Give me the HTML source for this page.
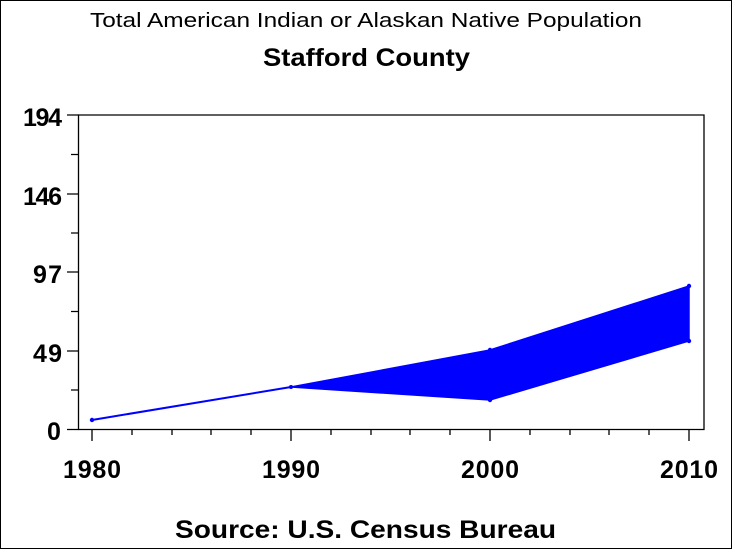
<!DOCTYPE html>
<html><head><style>
html,body{margin:0;padding:0;background:#fff;}
svg{display:block;}
text{font-family:"Liberation Sans",Arial,sans-serif;fill:#000;}
</style></head><body>
<svg width="733" height="550" viewBox="0 0 733 550">
<rect x="0.5" y="0.5" width="731" height="548" fill="#fff" stroke="#000"/>
<text x="90" y="27" font-size="20" textLength="552" lengthAdjust="spacingAndGlyphs">Total American Indian or Alaskan Native Population</text>
<text x="263" y="66" font-size="25" font-weight="bold" textLength="207" lengthAdjust="spacingAndGlyphs">Stafford County</text>
<text x="175" y="538" font-size="25" font-weight="bold" textLength="381" lengthAdjust="spacingAndGlyphs">Source: U.S. Census Bureau</text>
<g stroke="#000" stroke-width="1.3" fill="none">
<path d="M78.5 115 H704 V429.5 H78.5 Z"/>
<path d="M67 115H78.5M67 194H78.5M67 272H78.5M67 351H78.5M67 429.5H78.5"/>
<path d="M71 154.5H78.5M71 233H78.5M71 311.5H78.5M71 390H78.5"/>
<path d="M92 429.5V441M291 429.5V441M490 429.5V441M689 429.5V441"/>
<path d="M132 429.5V435M172 429.5V435M211 429.5V435M251 429.5V435M331 429.5V435M371 429.5V435M410 429.5V435M450 429.5V435M530 429.5V435M570 429.5V435M609 429.5V435M649 429.5V435"/>
</g>
<g font-size="25" font-weight="bold" lengthAdjust="spacingAndGlyphs">
<text x="23" y="126" textLength="39">194</text>
<text x="23" y="205" textLength="39">146</text>
<text x="33" y="283" textLength="29">97</text>
<text x="33" y="362" textLength="29">49</text>
<text x="47" y="440" textLength="15">0</text>
<text x="63" y="478" textLength="58">1980</text>
<text x="262" y="478" textLength="58">1990</text>
<text x="461" y="478" textLength="58">2000</text>
<text x="660" y="478" textLength="58">2010</text>
</g>
<polygon points="291,387 490,350 689,286 689,341 490,400" fill="#0000ff" stroke="#0000ff" stroke-width="1.5"/>
<polyline points="92,420 291,387" stroke="#0000ff" stroke-width="2" fill="none"/>
<g fill="#0000ff"><circle cx="92" cy="420" r="2.2"/><circle cx="291" cy="387" r="2"/><circle cx="490" cy="350" r="2.2"/><circle cx="490" cy="400" r="2.2"/><circle cx="689" cy="286" r="2.2"/><circle cx="689" cy="341" r="2.2"/></g>
</svg>
</body></html>
